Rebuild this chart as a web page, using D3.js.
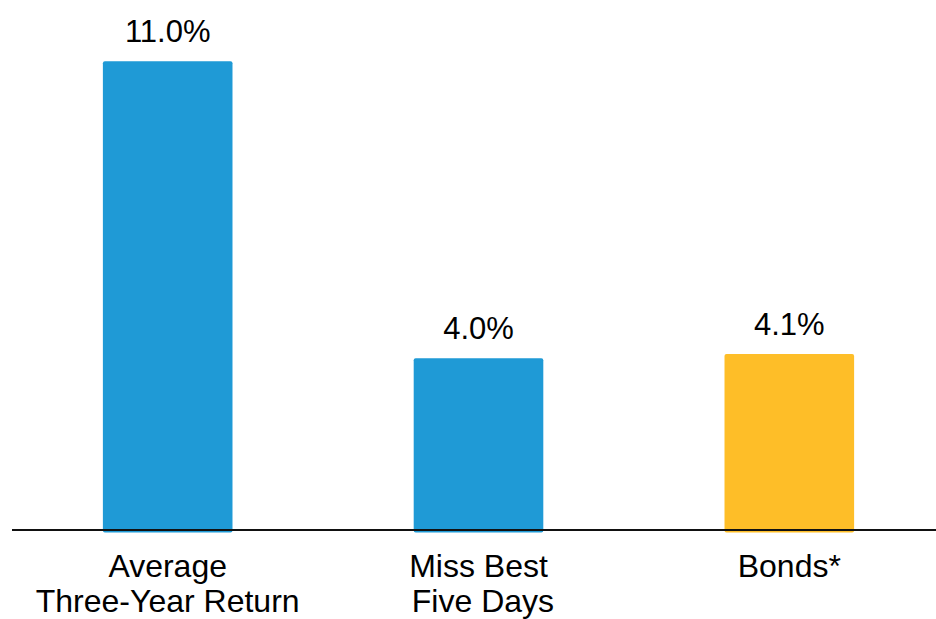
<!DOCTYPE html>
<html>
<head>
<meta charset="utf-8">
<script src="https://cdn.jsdelivr.net/npm/d3@7/dist/d3.min.js"></script>
<style>
  html, body { margin: 0; padding: 0; background: #ffffff; }
  svg { display: block; }
  text { font-family: "Liberation Sans", Arial, sans-serif; fill: #000; }
</style>
</head>
<body>
<script>
// Category keys and the label lines drawn under each bar
const categories = ["avg", "miss", "bonds"];
const categoryLines = [
  ["Average", "Three-Year Return"],
  ["Miss Best", "\u00A0Five Days"],
  ["Bonds*"]
];
// Annualized returns, percent
const values = [11.0, 4.0, 4.1];
const valueLabels = ["11.0%", "4.0%", "4.1%"];
const colors = ["#1f9ad6", "#1f9ad6", "#febe28"];

const width = 936, height = 619;

const svg = d3.select("body").append("svg")
  .attr("width", width)
  .attr("height", height);

const x = d3.scaleBand()
  .domain(categories)
  .range([12.75, 944.25])
  .paddingInner(0.583)
  .paddingOuter(0.29);

const y = d3.scaleLinear()
  .domain([0, 11])
  .range([528, 61.3]);

const baseY = 530;

// Bars (run slightly past the axis line, with softly rounded corners)
svg.append("g")
  .selectAll("rect")
  .data(values)
  .join("rect")
  .attr("x", (d, i) => x(categories[i]))
  .attr("y", d => y(d))
  .attr("width", x.bandwidth())
  .attr("height", d => y(0) - y(d) + 4.5)
  .attr("rx", 2)
  .attr("fill", (d, i) => colors[i]);

// Baseline
svg.append("line")
  .attr("x1", 12)
  .attr("x2", width)
  .attr("y1", baseY)
  .attr("y2", baseY)
  .attr("stroke", "#111")
  .attr("stroke-width", 2);

// Value labels above bars
svg.append("g")
  .selectAll("text")
  .data(values)
  .join("text")
  .attr("x", (d, i) => x(categories[i]) + x.bandwidth() / 2)
  .attr("y", d => y(d) - 19)
  .attr("text-anchor", "middle")
  .attr("font-size", 31)
  .text((d, i) => valueLabels[i]);

// Category labels below the baseline
const cat = svg.append("g")
  .selectAll("text")
  .data(categories)
  .join("text")
  .attr("x", d => x(d) + x.bandwidth() / 2)
  .attr("y", 577)
  .attr("text-anchor", "middle")
  .attr("font-size", 32);

cat.each(function (d, i) {
  const t = d3.select(this);
  categoryLines[i].forEach((line, j) => {
    t.append("tspan")
      .attr("x", x(d) + x.bandwidth() / 2)
      .attr("dy", j === 0 ? 0 : 35)
      .text(line);
  });
});
</script>
</body>
</html>
